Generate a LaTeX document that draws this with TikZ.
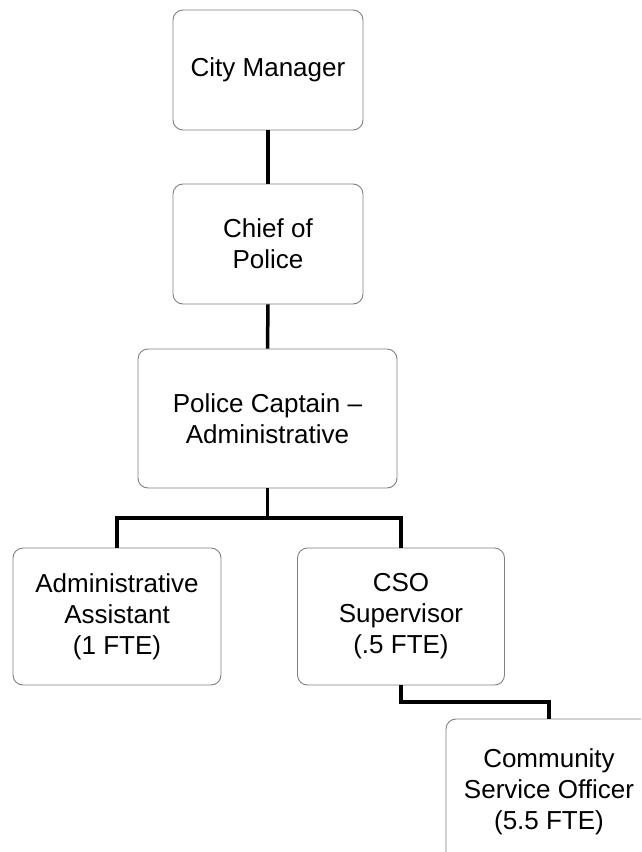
\documentclass[tikz,border=0pt]{standalone}
\usepackage{fontspec}
\setmainfont{Liberation Sans}
\begin{document}
\begin{tikzpicture}[x=1pt,y=1pt,
  orgbox/.style={draw=gray, line width=0.9pt, rounded corners=10pt, fill=white,
    align=center, inner sep=0pt, anchor=center,
    font=\fontsize{26}{31}\selectfont},
  link/.style={line width=3.5pt, black}]
  \clip (0,0) rectangle (641,-852);
  \fill[white] (0,0) rectangle (641,-852);

  % boxes
  \node[orgbox, minimum width=190, minimum height=120] (cm) at (268,-70) {City Manager};
  \node[orgbox, minimum width=190, minimum height=120] (chief) at (268,-244) {Chief of\\Police};
  \node[orgbox, minimum width=259, minimum height=139] (capt) at (267.5,-418.5) {Police Captain --\\Administrative};
  \node[orgbox, minimum width=208, minimum height=137] (admin) at (117,-616.5) {Administrative\\Assistant\\(1 FTE)};
  \node[orgbox, minimum width=207, minimum height=137] (cso) at (401,-616.5) {CSO\\Supervisor\\(.5 FTE)};
  \node[orgbox, minimum width=206, minimum height=146] (off) at (549,-792) {Community\\Service Officer\\(5.5 FTE)};

  % reporting lines
  \draw[link] (cm.south) -- (chief.north);
  \draw[link] (chief.south) -- (capt.north);
  \coordinate (bus) at (0,-518);
  \draw[link] (capt.south) -- (capt.south |- bus);
  \draw[link] (admin.north) -- (admin.north |- bus) -- (cso.north |- bus) -- (cso.north);
  \coordinate (bus2) at (0,-702);
  \draw[link] (cso.south) -- (cso.south |- bus2) -- (off.north |- bus2) -- (off.north);
\end{tikzpicture}
\end{document}
